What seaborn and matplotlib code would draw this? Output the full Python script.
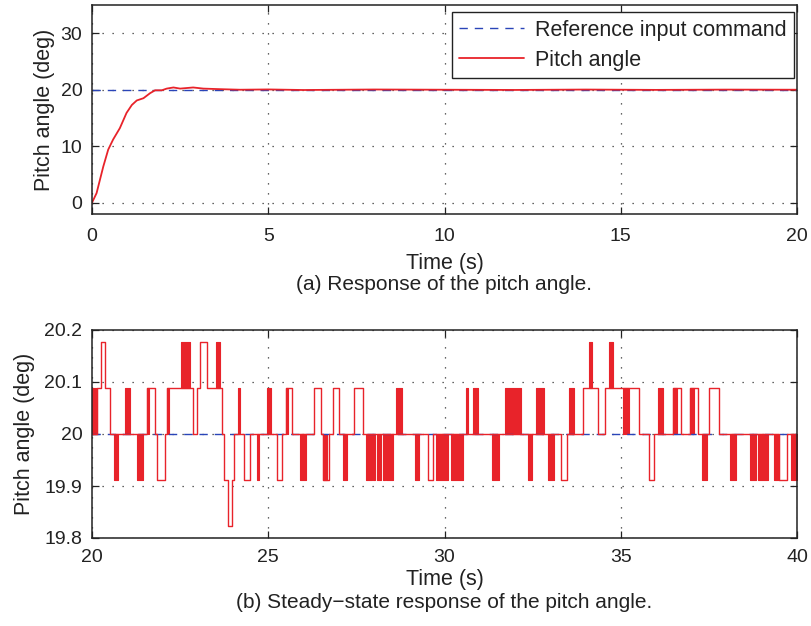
import matplotlib
matplotlib.use("Agg")
import matplotlib.pyplot as plt
import numpy as np
import pandas as pd
import seaborn as sns

# ---------------- data ----------------
# (a) transient response, 0-20 s
ref_cmd_deg = 20.0
resp_t = [0.00, 0.13, 0.32, 0.46, 0.60, 0.79, 0.98, 1.13, 1.27, 1.46, 1.65, 1.79,
          1.98, 2.12, 2.31, 2.50, 2.87, 3.16, 3.63, 4.20, 5.0, 6.0, 8.0, 10.0,
          12.0, 14.0, 16.0, 18.0, 20.0]
resp_deg = [0.0, 1.7, 6.4, 9.4, 11.2, 13.2, 15.9, 17.3, 18.1, 18.5, 19.4, 19.9,
            19.9, 20.2, 20.4, 20.2, 20.4, 20.2, 20.1, 20.0, 20.05, 19.95, 20.04, 20.0,
            19.96, 20.03, 19.97, 20.02, 20.0]

# (b) steady-state response, 20-40 s: quantised sensor levels (deg)
steady_t = [20.00, 20.15, 20.25, 20.38, 20.51, 21.55, 21.78, 21.85, 22.06, 22.14,
            22.87, 22.99, 23.06, 23.25, 23.70, 23.75, 23.85, 23.96, 24.03, 24.32,
            24.48, 25.25, 25.38, 25.50, 25.68, 26.30, 26.50, 26.56, 26.73, 26.83,
            27.00, 27.44, 27.68, 29.53, 29.67, 33.30, 33.47, 33.94, 34.35, 34.56,
            35.53, 35.81, 35.95, 36.47, 36.72, 36.97, 37.19, 37.50, 37.79, 39.49,
            39.72, 40.00]
steady_deg = [20.000, 20.088, 20.176, 20.088, 20.000, 20.088, 20.000, 19.912, 20.000, 20.088,
              20.000, 20.088, 20.176, 20.088, 20.000, 19.912, 19.824, 19.912, 20.000, 19.912,
              20.000, 19.912, 20.000, 20.088, 20.000, 20.088, 20.000, 19.912, 20.000, 20.088,
              20.000, 20.088, 20.000, 19.912, 20.000, 19.912, 20.000, 20.088, 20.000, 20.088,
              20.000, 19.912, 20.000, 20.088, 20.000, 20.088, 20.000, 20.088, 20.000, 19.912,
              20.000, 20.000]

# intervals where the reading toggles rapidly between two adjacent levels
chatter_t0 = [20.00, 20.62, 20.94, 21.29, 21.55, 22.14, 22.53, 23.51, 24.13, 24.67,
              24.96, 25.50, 25.90, 26.56, 27.11, 27.78, 27.97, 28.08, 28.25, 28.34,
              28.62, 29.17, 29.76, 30.18, 30.60, 30.81, 31.34, 31.72, 32.36, 32.60,
              32.94, 33.54, 34.09, 34.68, 35.06, 36.05, 36.47, 36.97, 37.31, 38.11,
              38.66, 38.89, 39.34, 39.84]
chatter_t1 = [20.15, 20.74, 21.08, 21.45, 21.61, 22.19, 22.77, 23.63, 24.19, 24.74,
              25.08, 25.57, 26.06, 26.67, 27.23, 27.94, 28.03, 28.19, 28.32, 28.53,
              28.79, 29.28, 30.11, 30.52, 30.66, 30.94, 31.55, 32.16, 32.49, 32.83,
              33.11, 33.68, 34.18, 34.79, 35.23, 36.19, 36.60, 37.07, 37.45, 38.26,
              38.85, 39.18, 39.49, 40.00]
chatter_lo = [20.000, 19.912, 20.000, 19.912, 20.000, 20.000, 20.088, 20.088, 20.000, 19.912,
              20.000, 20.000, 19.912, 19.912, 19.912, 19.912, 19.912, 19.912, 19.912, 19.912,
              20.000, 19.912, 19.912, 19.912, 20.000, 20.000, 19.912, 20.000, 19.912, 20.000,
              19.912, 20.000, 20.088, 20.088, 20.000, 20.000, 20.000, 20.000, 19.912, 19.912,
              19.912, 19.912, 19.912, 19.912]
chatter_hi = [20.088, 20.000, 20.088, 20.000, 20.088, 20.088, 20.176, 20.176, 20.088, 20.000,
              20.088, 20.088, 20.000, 20.000, 20.000, 20.000, 20.000, 20.000, 20.000, 20.000,
              20.088, 20.000, 20.000, 20.000, 20.088, 20.088, 20.000, 20.088, 20.000, 20.088,
              20.000, 20.088, 20.176, 20.176, 20.088, 20.088, 20.088, 20.088, 20.000, 20.000,
              20.000, 20.000, 20.000, 20.000]

top_xticks = [0, 5, 10, 15, 20]
top_yticks = [0, 10, 20, 30]
bot_xticks = [20, 25, 30, 35, 40]
bot_yticks = [19.8, 19.9, 20.0, 20.1, 20.2]
bot_yticklabels = ["19.8", "19.9", "20", "20.1", "20.2"]

# ---------------- style ----------------
sns.set_style("ticks")
plt.rcParams["font.family"] = ["Liberation Sans", "DejaVu Sans"]
TICK_FS = 14
LABEL_FS = 15.5
RED = "#e8232a"
BLUE = "#2a45b8"
INK = "#222222"
GRID = dict(color="#333333", linestyle=(0, (1, 7)), linewidth=0.9)

W, H = 811, 626
fig = plt.figure(figsize=(W / 100, H / 100), dpi=100)
ax1 = fig.add_axes([92 / W, 1 - 214 / H, 705 / W, 209 / H])
ax2 = fig.add_axes([92 / W, 1 - 538 / H, 705 / W, 208 / H])


def style_axes(ax, xpad):
    for s in ax.spines.values():
        s.set_color(INK)
        s.set_linewidth(1.1)
    ax.tick_params(direction="in", length=5, width=0.9, top=True, right=True,
                   labelsize=TICK_FS, colors=INK)
    ax.tick_params(axis="x", pad=xpad)
    ax.tick_params(axis="y", pad=7)
    ax.grid(True, **GRID)
    ax.set_axisbelow(True)


# (a) response of the pitch angle
top_ref = pd.DataFrame({"t": [0, 20], "deg": [ref_cmd_deg, ref_cmd_deg]})
top_resp = pd.DataFrame({"t": resp_t, "deg": resp_deg})
sns.lineplot(data=top_ref, x="t", y="deg", ax=ax1, color=BLUE, lw=1.0,
             linestyle=(0, (6, 5)), label="Reference input command")
sns.lineplot(data=top_resp, x="t", y="deg", ax=ax1, color=RED, lw=1.3,
             label="Pitch angle", sort=False, estimator=None)
ax1.set_xlim(0, 20)
ax1.set_ylim(-2, 35)
ax1.set_xticks(top_xticks)
ax1.set_yticks(top_yticks)
ax1.set_xlabel("Time (s)", fontsize=LABEL_FS, labelpad=5.5, color=INK)
ax1.set_ylabel("Pitch angle (deg)", fontsize=LABEL_FS, labelpad=4, color=INK)
style_axes(ax1, xpad=10)
leg = ax1.legend(loc="upper right", bbox_to_anchor=(794 / W, 1 - 12 / H),
                 bbox_transform=fig.transFigure, borderaxespad=0, fontsize=LABEL_FS,
                 frameon=True, fancybox=False, handlelength=3.0,
                 borderpad=0.35, labelspacing=0.42, handletextpad=0.5)
leg.get_frame().set_edgecolor(INK)
leg.get_frame().set_linewidth(1.0)
leg.get_frame().set_alpha(1.0)
for txt in leg.get_texts():
    txt.set_color(INK)

# (b) steady-state response
bot_ref = pd.DataFrame({"t": [20, 40], "deg": [ref_cmd_deg, ref_cmd_deg]})
bot_resp = pd.DataFrame({"t": steady_t, "deg": steady_deg})
sns.lineplot(data=bot_ref, x="t", y="deg", ax=ax2, color=BLUE, lw=1.0,
             linestyle=(0, (6, 5)))
for t0, t1, lo, hi in zip(chatter_t0, chatter_t1, chatter_lo, chatter_hi):
    ax2.fill_between([t0, t1], lo, hi, color=RED, lw=0.8, edgecolor=RED)
sns.lineplot(data=bot_resp, x="t", y="deg", ax=ax2, color=RED, lw=1.0,
             sort=False, estimator=None, drawstyle="steps-post")
ax2.set_xlim(20, 40)
ax2.set_ylim(19.8, 20.2)
ax2.set_xticks(bot_xticks)
ax2.set_yticks(bot_yticks)
ax2.set_yticklabels(bot_yticklabels)
ax2.set_xlabel("Time (s)", fontsize=LABEL_FS, labelpad=2, color=INK)
ax2.set_ylabel("Pitch angle (deg)", fontsize=LABEL_FS, labelpad=7, color=INK)
style_axes(ax2, xpad=8)

fig.text(444.5 / W, 1 - 284 / H, "(a) Response of the pitch angle.",
         ha="center", va="center", fontsize=15, color=INK)
fig.text(444.5 / W, 1 - 603 / H, "(b) Steady\u2212state response of the pitch angle.",
         ha="center", va="center", fontsize=15, color=INK)

fig.savefig("out.png", dpi=100)
